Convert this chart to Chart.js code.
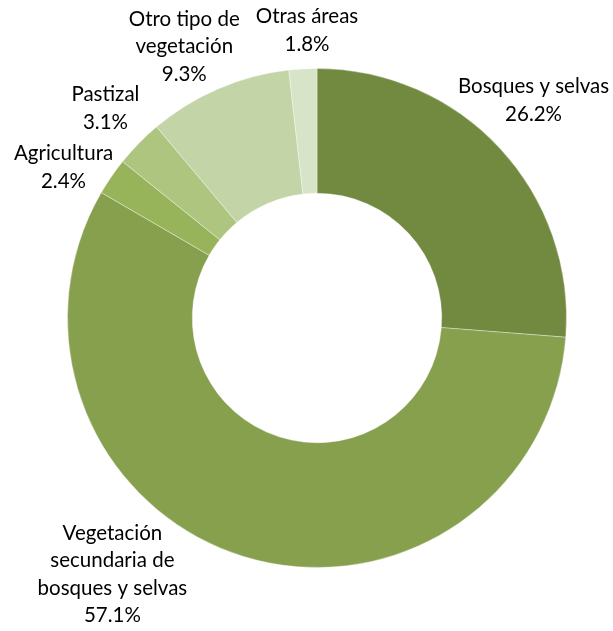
<!DOCTYPE html>
<html>
<head>
<meta charset="utf-8">
<script src="https://cdn.jsdelivr.net/npm/chart.js"></script>
<style>
    html, body { margin: 0; padding: 0; background: #ffffff; }
    #wrap { width: 613px; height: 631px; position: relative; }
</style>
</head>
<body>
<div id="wrap"><canvas id="usoSuelo"></canvas></div>
<script>
// Datos (porcentaje de superficie)
const categorias = ['Bosques y selvas', 'Vegetación secundaria de bosques y selvas', 'Agricultura', 'Pastizal', 'Otro tipo de vegetación', 'Otras áreas'];
const lineasEtiqueta = [
    ['Bosques y selvas'],
    ['Vegetación', 'secundaria de', 'bosques y selvas'],
    ['Agricultura'],
    ['Pastizal'],
    ['Otro tipo de', 'vegetación'],
    ['Otras áreas']
];
const porcentajes = [26.2, 57.1, 2.4, 3.1, 9.3, 1.8];
const colores = ['#728a40', '#87a04e', '#98b45a', '#adc57e', '#c3d4a7', '#d8e4c8'];

// donde va cada etiqueta, relativo al centro y en unidades del radio exterior
const posEtiquetas = [
    [0.868, -0.872],
    [-0.82, 1.028],
    [-1.016, -0.604],
    [-0.848, -0.84],
    [-0.532, -1.088],
    [-0.04, -1.152]
];

const etiquetasFuera = {
    id: 'etiquetasFuera',
    afterDatasetsDraw(chart) {
        const ctx = chart.ctx;
        const arcs = chart.getDatasetMeta(0).data;
        const lh = 27.5;
        ctx.save();
        ctx.font = '20.5px Lato, "Liberation Sans", sans-serif';
        ctx.fillStyle = '#000000';
        ctx.textAlign = 'center';
        ctx.textBaseline = 'middle';
        arcs.forEach((arc, i) => {
            const r = arc.outerRadius;
            const cx = arc.x + posEtiquetas[i][0] * r;
            const cy = arc.y + posEtiquetas[i][1] * r;
            const lineas = lineasEtiqueta[i].concat([porcentajes[i].toFixed(1) + '%']);
            const y0 = cy - (lineas.length - 1) * lh / 2;
            lineas.forEach((t, k) => ctx.fillText(t, cx, y0 + k * lh));
        });
        ctx.restore();
    }
};

new Chart(document.getElementById('usoSuelo'), {
    type: 'doughnut',
    data: {
        labels: categorias,
        datasets: [{
            data: porcentajes,
            backgroundColor: colores,
            borderColor: 'rgba(255, 255, 255, 0.35)',
            borderWidth: 1
        }]
    },
    options: {
        responsive: true,
        maintainAspectRatio: false,
        animation: false,
        cutout: '50%',
        layout: {
            padding: { left: 67, right: 46, top: 68, bottom: 63 }
        },
        plugins: {
            legend: { display: false },
            tooltip: { enabled: false }
        }
    },
    plugins: [etiquetasFuera]
});
</script>
</body>
</html>
